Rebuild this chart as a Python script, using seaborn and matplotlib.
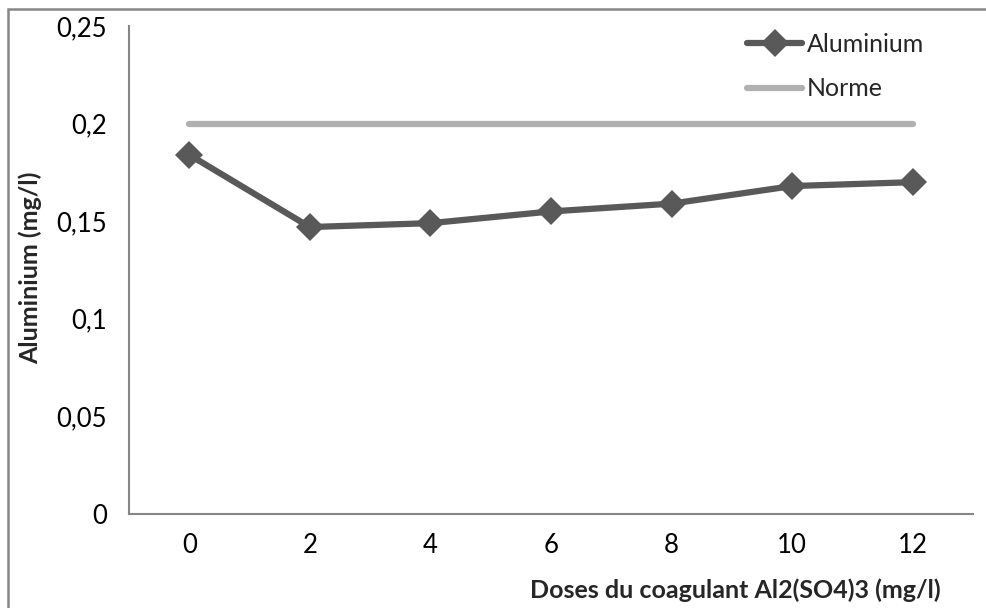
import matplotlib
matplotlib.use("Agg")
import matplotlib.pyplot as plt
import matplotlib.patches as mpatches
import seaborn as sns
import pandas as pd

doses = ["0", "2", "4", "6", "8", "10", "12"]
aluminium = [0.184, 0.147, 0.149, 0.155, 0.159, 0.168, 0.170]
norme = [0.2, 0.2, 0.2, 0.2, 0.2, 0.2, 0.2]
y_ticks = [0, 0.05, 0.1, 0.15, 0.2, 0.25]
y_tick_labels = ["0", "0,05", "0,1", "0,15", "0,2", "0,25"]

sns.set_theme(style="white")
plt.rcParams["font.family"] = ["Lato", "DejaVu Sans"]

df = pd.DataFrame({"dose": doses, "Aluminium": aluminium, "Norme": norme})

fig = plt.figure(figsize=(9.86, 6.08), dpi=100)
ax = fig.add_axes([129 / 986, 94 / 608, 844 / 986, 488 / 608])

sns.lineplot(data=df, x="dose", y="Aluminium", ax=ax, color="#595959",
             linewidth=4.5, marker="D", markersize=14, markeredgewidth=0,
             label="Aluminium", sort=False)
sns.lineplot(data=df, x="dose", y="Norme", ax=ax, color="#b0b0b0",
             linewidth=4.5, label="Norme", sort=False,
             solid_capstyle="round")

ax.set_xlim(-0.5, len(doses) - 0.5)
ax.set_ylim(0, 0.25)
ax.set_yticks(y_ticks)
ax.set_yticklabels(y_tick_labels)
ax.tick_params(axis="y", direction="out", length=7, width=1.2,
               color="#868686", labelsize=18.5, pad=9)
ax.tick_params(axis="x", length=0, labelsize=18.5, pad=14)
for lbl in ax.get_xticklabels() + ax.get_yticklabels():
    lbl.set_color("black")

for side in ["top", "right"]:
    ax.spines[side].set_visible(False)
for side in ["left", "bottom"]:
    ax.spines[side].set_color("#868686")
    ax.spines[side].set_linewidth(1.5)

ax.set_xlabel("")
ax.set_ylabel("")
fig.text(30 / 986, 1 - 268 / 608, "Aluminium (mg/l)", rotation=90,
         ha="center", va="center", fontsize=18, fontweight="bold")
fig.text(735 / 986, 1 - 590 / 608, "Doses du coagulant Al2(SO4)3 (mg/l)",
         ha="center", va="center", fontsize=18, fontweight="bold")

leg = ax.legend(loc="upper left", bbox_to_anchor=(747 / 986, 1 - 33 / 608),
                bbox_transform=fig.transFigure, frameon=False,
                fontsize=18, handlelength=2.2, handletextpad=0.2,
                labelspacing=0.85, borderpad=0, borderaxespad=0)

fig.patches.append(mpatches.Rectangle((7.5 / 986, -0.1), 1.2, 1 - 9.5 / 608 + 0.1,
                                      transform=fig.transFigure, fill=False,
                                      edgecolor="#868686", linewidth=1.8))

fig.savefig("out.png", dpi=100)
